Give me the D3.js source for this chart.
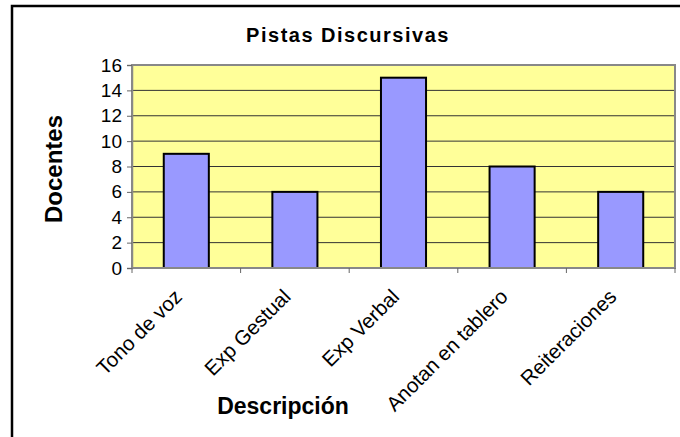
<!DOCTYPE html>
<html>
<head>
<meta charset="utf-8">
<script src="https://cdn.jsdelivr.net/npm/d3@7"></script>
<style>
  body { margin: 0; background: #fff; }
  svg text { font-family: "Liberation Sans", Arial, sans-serif; fill: #000; }
</style>
</head>
<body>
<script>
// data
var categories = ["Tono de voz", "Exp Gestual", "Exp Verbal", "Anotan en tablero", "Reiteraciones"]
var docentes = [9, 6, 15, 8, 6]
var yTicks = [0, 2, 4, 6, 8, 10, 12, 14, 16]

var W = 680, H = 437
var plot = {left: 132, top: 65, right: 675, bottom: 268}

var svg = d3.select("body").append("svg")
  .attr("width", W)
  .attr("height", H)

// outer frame
svg.append("rect")
  .attr("x", 12).attr("y", 6)
  .attr("width", 700).attr("height", 460)
  .attr("fill", "#fff")
  .attr("stroke", "#000")
  .attr("stroke-width", 2.5)

var x = d3.scaleBand()
  .domain(categories)
  .range([plot.left, plot.right])
  .padding(0)

var y = d3.scaleLinear()
  .domain([0, 16])
  .range([plot.bottom, plot.top])

// plot background
svg.append("rect")
  .attr("x", plot.left).attr("y", plot.top)
  .attr("width", plot.right - plot.left)
  .attr("height", plot.bottom - plot.top)
  .attr("fill", "#ffff99")

// gridlines
svg.append("g")
  .selectAll("line")
  .data(yTicks.filter(d => d > 0 && d < 16))
  .join("line")
  .attr("x1", plot.left).attr("x2", plot.right)
  .attr("y1", d => y(d)).attr("y2", d => y(d))
  .attr("stroke", "#333")
  .attr("stroke-width", 1)

// bars
var barW = x.bandwidth() * 0.415
svg.append("g")
  .selectAll("rect")
  .data(categories)
  .join("rect")
  .attr("x", d => x(d) + x.bandwidth() / 2 - barW / 2)
  .attr("y", (d, i) => y(docentes[i]))
  .attr("width", barW)
  .attr("height", (d, i) => y(0) - y(docentes[i]))
  .attr("fill", "#9999ff")
  .attr("stroke", "#000")
  .attr("stroke-width", 2)

// plot border
svg.append("rect")
  .attr("x", plot.left).attr("y", plot.top)
  .attr("width", plot.right - plot.left)
  .attr("height", plot.bottom - plot.top)
  .attr("fill", "none")
  .attr("stroke", "#888")
  .attr("stroke-width", 2)

// y axis
var yAxis = svg.append("g")
  .attr("transform", "translate(" + plot.left + ",0)")
  .call(d3.axisLeft(y).tickValues(yTicks).tickSize(5).tickPadding(5))
yAxis.select(".domain").attr("stroke", "#888").attr("stroke-width", 1.5)
yAxis.selectAll(".tick line").attr("stroke", "#666")
yAxis.selectAll("text")
  .attr("font-size", 19)
  .attr("font-family", "Liberation Sans, Arial, sans-serif")
  .attr("fill", "#000")

// x axis ticks at category boundaries
var bounds = categories.map(d => x(d)).concat([plot.right])
svg.append("g")
  .selectAll("line")
  .data(bounds)
  .join("line")
  .attr("x1", d => d).attr("x2", d => d)
  .attr("y1", plot.bottom).attr("y2", plot.bottom + 5)
  .attr("stroke", "#666")

// category labels
svg.append("g")
  .selectAll("text")
  .data(categories)
  .join("text")
  .attr("transform", d => "translate(" + (x(d) + x.bandwidth() / 2 - 3) + "," + (plot.bottom + 30) + ") rotate(-45)")
  .attr("text-anchor", "end")
  .attr("font-size", 20.5)
  .text(d => d)

// title
svg.append("text")
  .attr("x", 348).attr("y", 42)
  .attr("text-anchor", "middle")
  .attr("font-size", 20)
  .attr("font-weight", "bold")
  .attr("letter-spacing", 1.5)
  .text("Pistas Discursivas")

// axis titles
svg.append("text")
  .attr("transform", "translate(62,169) rotate(-90)")
  .attr("text-anchor", "middle")
  .attr("font-size", 24)
  .attr("font-weight", "bold")
  .text("Docentes")

svg.append("text")
  .attr("x", 283).attr("y", 414)
  .attr("text-anchor", "middle")
  .attr("font-size", 23)
  .attr("font-weight", "bold")
  .text("Descripción")
</script>
</body>
</html>
